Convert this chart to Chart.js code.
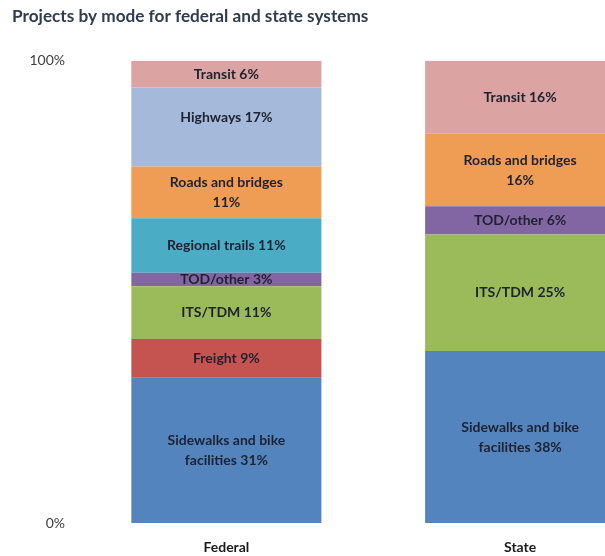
<!DOCTYPE html>
<html>
<head>
<meta charset="utf-8">
<script src="https://cdn.jsdelivr.net/npm/chart.js@4"></script>
<style>
    html, body { margin: 0; padding: 0; background: #fff; overflow: hidden; }
    #wrap { width: 605px; height: 556px; overflow: hidden; }
</style>
</head>
<body>
<div id="wrap">
    <canvas id="modeChart" width="667" height="556"></canvas>
</div>
<script>
// Categories (bars) and the modes stacked inside them, bottom to top
const categories = ['Federal', 'State'];
const modes = ['Sidewalks and bike facilities', 'Freight', 'ITS/TDM', 'TOD/other',
               'Regional trails', 'Roads and bridges', 'Highways', 'Transit'];

// Share of projects (%)
const federalShare = [31.4, 8.4, 11.4, 2.9, 11.8, 11.2, 17.1, 5.8];
const stateShare   = [37.2, null, 25.2, 6.1, null, 15.7, null, 15.8];

// Text printed inside each segment
const federalLabels = ['Sidewalks and bike\nfacilities 31%', 'Freight 9%', 'ITS/TDM 11%', 'TOD/other 3%',
                       'Regional trails 11%', 'Roads and bridges\n11%', 'Highways 17%\n', 'Transit 6%'];
const stateLabels   = ['Sidewalks and bike\nfacilities 38%', null, 'ITS/TDM 25%', 'TOD/other 6%',
                       null, 'Roads and bridges\n16%', null, 'Transit 16%'];

// Y axis tick values
const yTicks = [0, 100];

const modeColors = ['#5384bd', '#c5534f', '#9bbb5b', '#8266a3', '#4bacc6', '#ef9d55', '#a5b9db', '#dba3a2'];

// Draws the text in the middle of every segment
const segmentLabels = {
    id: 'segmentLabels',
    afterDatasetsDraw(chart) {
        const ctx = chart.ctx;
        ctx.save();
        ctx.font = 'bold 14px Lato';
        ctx.fillStyle = '#1e2230';
        ctx.textAlign = 'center';
        ctx.textBaseline = 'middle';
        chart.data.datasets.forEach((ds, i) => {
            const meta = chart.getDatasetMeta(i);
            meta.data.forEach((bar, j) => {
                const text = ds.segmentText[j];
                if (ds.data[j] == null || !text) return;
                const lines = text.split('\n');
                const lineH = 20;
                const mid = (bar.y + bar.base) / 2;
                const top = mid - (lines.length - 1) * lineH / 2;
                lines.forEach((line, k) => ctx.fillText(line, bar.x, top + k * lineH));
            });
        });
        ctx.restore();
    }
};

const ctx = document.getElementById('modeChart').getContext('2d');

const modeChart = new Chart(ctx, {
    type: 'bar',
    data: {
        labels: categories,
        datasets: modes.map((m, i) => ({
            label: m,
            data: [federalShare[i], stateShare[i]],
            segmentText: [federalLabels[i], stateLabels[i]],
            backgroundColor: modeColors[i],
            borderWidth: 0,
            categoryPercentage: 1,
            barPercentage: 0.647
        }))
    },
    options: {
        responsive: false,
        animation: false,
        layout: { padding: { left: 12, right: 0, top: 0, bottom: 2 } },
        scales: {
            x: {
                stacked: true,
                afterFit: (axis) => { axis.height = 31; },
                grid: { display: false, drawTicks: false },
                border: { display: false },
                ticks: {
                    padding: 16,
                    color: '#1a1a1a',
                    font: { family: 'Lato', size: 14, weight: 'bold' }
                }
            },
            y: {
                stacked: true,
                min: 0,
                max: 100,
                afterBuildTicks: (axis) => { axis.ticks = yTicks.map(v => ({ value: v })); },
                afterFit: (axis) => { axis.width = 67.5; },
                grid: { display: false, drawTicks: false },
                border: { display: false },
                ticks: {
                    padding: 14.5,
                    color: '#404040',
                    font: { family: 'Lato', size: 14 },
                    callback: (v) => v + '%'
                }
            }
        },
        plugins: {
            legend: { display: false },
            tooltip: { enabled: false },
            title: {
                display: true,
                text: 'Projects by mode for federal and state systems',
                align: 'start',
                color: '#2e3d4f',
                font: { family: 'Lato', size: 17.2, weight: 'bold' },
                padding: { top: 6, bottom: 34 }
            }
        }
    },
    plugins: [segmentLabels]
});
</script>
</body>
</html>
